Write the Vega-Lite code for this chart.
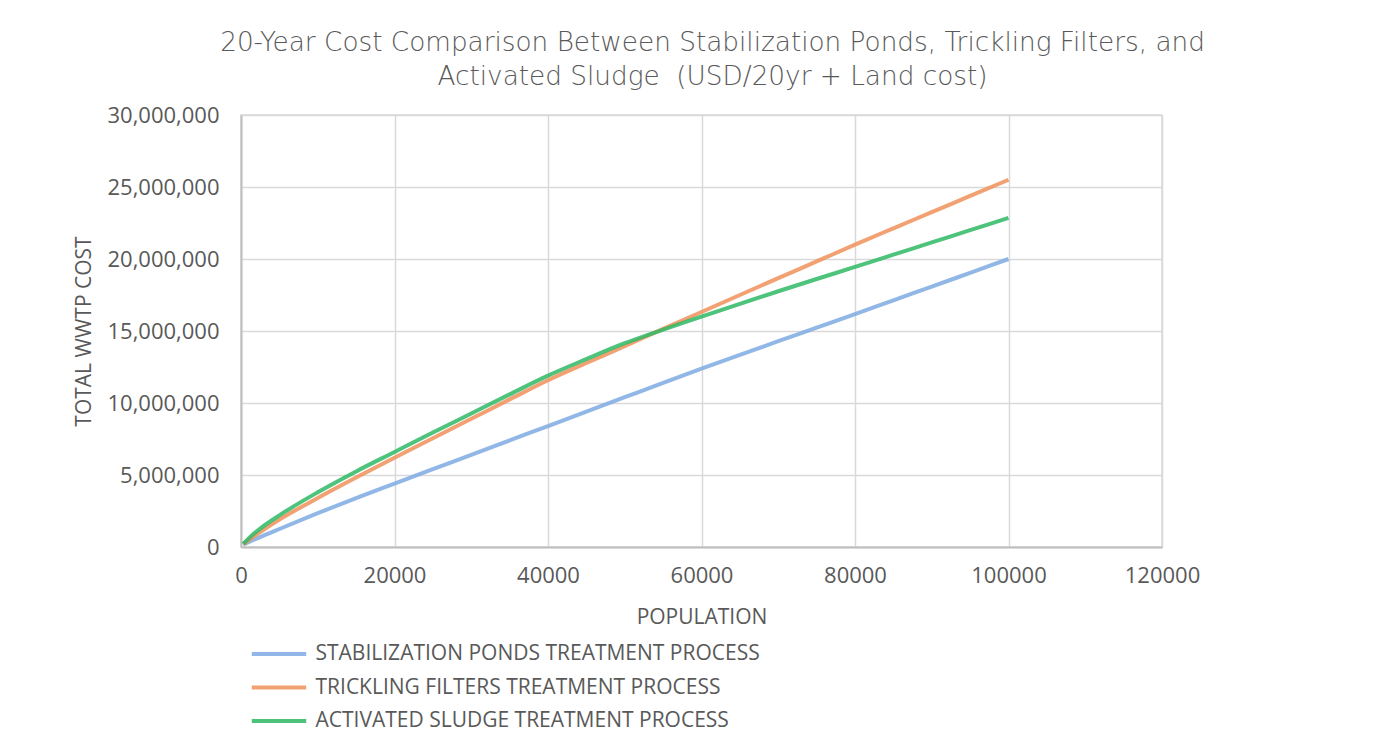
{
  "$schema": "https://vega.github.io/schema/vega-lite/v6.json",
  "width": 921,
  "height": 432,
  "autosize": {"type": "none"},
  "padding": {"left": 241, "top": 115, "right": 211, "bottom": 204},
  "background": "white",
  "title": {
    "text": ["20-Year Cost Comparison Between Stabilization Ponds, Trickling Filters, and", "Activated Sludge \u00a0(USD/20yr + Land cost)"],
    "anchor": "middle",
    "frame": "group",
    "dx": 11,
    "offset": 14,
    "font": "DejaVu Sans",
    "fontWeight": 200,
    "fontSize": 26.3,
    "lineHeight": 34,
    "color": "#595959"
  },
  "data": {
    "values": [
      {"population": 300, "process": "STABILIZATION PONDS TREATMENT PROCESS", "cost": 170000},
      {"population": 1000, "process": "STABILIZATION PONDS TREATMENT PROCESS", "cost": 340000},
      {"population": 2500, "process": "STABILIZATION PONDS TREATMENT PROCESS", "cost": 690000},
      {"population": 5000, "process": "STABILIZATION PONDS TREATMENT PROCESS", "cost": 1250000},
      {"population": 10000, "process": "STABILIZATION PONDS TREATMENT PROCESS", "cost": 2350000},
      {"population": 15000, "process": "STABILIZATION PONDS TREATMENT PROCESS", "cost": 3400000},
      {"population": 20000, "process": "STABILIZATION PONDS TREATMENT PROCESS", "cost": 4400000},
      {"population": 25000, "process": "STABILIZATION PONDS TREATMENT PROCESS", "cost": 5400000},
      {"population": 30000, "process": "STABILIZATION PONDS TREATMENT PROCESS", "cost": 6400000},
      {"population": 35000, "process": "STABILIZATION PONDS TREATMENT PROCESS", "cost": 7400000},
      {"population": 40000, "process": "STABILIZATION PONDS TREATMENT PROCESS", "cost": 8400000},
      {"population": 45000, "process": "STABILIZATION PONDS TREATMENT PROCESS", "cost": 9400000},
      {"population": 50000, "process": "STABILIZATION PONDS TREATMENT PROCESS", "cost": 10400000},
      {"population": 55000, "process": "STABILIZATION PONDS TREATMENT PROCESS", "cost": 11400000},
      {"population": 60000, "process": "STABILIZATION PONDS TREATMENT PROCESS", "cost": 12380000},
      {"population": 65000, "process": "STABILIZATION PONDS TREATMENT PROCESS", "cost": 13340000},
      {"population": 70000, "process": "STABILIZATION PONDS TREATMENT PROCESS", "cost": 14290000},
      {"population": 75000, "process": "STABILIZATION PONDS TREATMENT PROCESS", "cost": 15230000},
      {"population": 80000, "process": "STABILIZATION PONDS TREATMENT PROCESS", "cost": 16170000},
      {"population": 85000, "process": "STABILIZATION PONDS TREATMENT PROCESS", "cost": 17130000},
      {"population": 90000, "process": "STABILIZATION PONDS TREATMENT PROCESS", "cost": 18080000},
      {"population": 95000, "process": "STABILIZATION PONDS TREATMENT PROCESS", "cost": 19040000},
      {"population": 100000, "process": "STABILIZATION PONDS TREATMENT PROCESS", "cost": 20000000},
      {"population": 300, "process": "TRICKLING FILTERS TREATMENT PROCESS", "cost": 190000},
      {"population": 1000, "process": "TRICKLING FILTERS TREATMENT PROCESS", "cost": 480000},
      {"population": 2500, "process": "TRICKLING FILTERS TREATMENT PROCESS", "cost": 1030000},
      {"population": 5000, "process": "TRICKLING FILTERS TREATMENT PROCESS", "cost": 1900000},
      {"population": 10000, "process": "TRICKLING FILTERS TREATMENT PROCESS", "cost": 3400000},
      {"population": 15000, "process": "TRICKLING FILTERS TREATMENT PROCESS", "cost": 4820000},
      {"population": 20000, "process": "TRICKLING FILTERS TREATMENT PROCESS", "cost": 6200000},
      {"population": 25000, "process": "TRICKLING FILTERS TREATMENT PROCESS", "cost": 7550000},
      {"population": 30000, "process": "TRICKLING FILTERS TREATMENT PROCESS", "cost": 8900000},
      {"population": 35000, "process": "TRICKLING FILTERS TREATMENT PROCESS", "cost": 10250000},
      {"population": 40000, "process": "TRICKLING FILTERS TREATMENT PROCESS", "cost": 11580000},
      {"population": 45000, "process": "TRICKLING FILTERS TREATMENT PROCESS", "cost": 12780000},
      {"population": 50000, "process": "TRICKLING FILTERS TREATMENT PROCESS", "cost": 13950000},
      {"population": 55000, "process": "TRICKLING FILTERS TREATMENT PROCESS", "cost": 15150000},
      {"population": 60000, "process": "TRICKLING FILTERS TREATMENT PROCESS", "cost": 16320000},
      {"population": 65000, "process": "TRICKLING FILTERS TREATMENT PROCESS", "cost": 17500000},
      {"population": 70000, "process": "TRICKLING FILTERS TREATMENT PROCESS", "cost": 18670000},
      {"population": 75000, "process": "TRICKLING FILTERS TREATMENT PROCESS", "cost": 19830000},
      {"population": 80000, "process": "TRICKLING FILTERS TREATMENT PROCESS", "cost": 21000000},
      {"population": 85000, "process": "TRICKLING FILTERS TREATMENT PROCESS", "cost": 22130000},
      {"population": 90000, "process": "TRICKLING FILTERS TREATMENT PROCESS", "cost": 23250000},
      {"population": 95000, "process": "TRICKLING FILTERS TREATMENT PROCESS", "cost": 24380000},
      {"population": 100000, "process": "TRICKLING FILTERS TREATMENT PROCESS", "cost": 25500000},
      {"population": 300, "process": "ACTIVATED SLUDGE TREATMENT PROCESS", "cost": 210000},
      {"population": 1000, "process": "ACTIVATED SLUDGE TREATMENT PROCESS", "cost": 600000},
      {"population": 2500, "process": "ACTIVATED SLUDGE TREATMENT PROCESS", "cost": 1280000},
      {"population": 5000, "process": "ACTIVATED SLUDGE TREATMENT PROCESS", "cost": 2200000},
      {"population": 10000, "process": "ACTIVATED SLUDGE TREATMENT PROCESS", "cost": 3800000},
      {"population": 15000, "process": "ACTIVATED SLUDGE TREATMENT PROCESS", "cost": 5250000},
      {"population": 20000, "process": "ACTIVATED SLUDGE TREATMENT PROCESS", "cost": 6600000},
      {"population": 25000, "process": "ACTIVATED SLUDGE TREATMENT PROCESS", "cost": 7950000},
      {"population": 30000, "process": "ACTIVATED SLUDGE TREATMENT PROCESS", "cost": 9270000},
      {"population": 35000, "process": "ACTIVATED SLUDGE TREATMENT PROCESS", "cost": 10600000},
      {"population": 40000, "process": "ACTIVATED SLUDGE TREATMENT PROCESS", "cost": 11900000},
      {"population": 45000, "process": "ACTIVATED SLUDGE TREATMENT PROCESS", "cost": 13050000},
      {"population": 50000, "process": "ACTIVATED SLUDGE TREATMENT PROCESS", "cost": 14150000},
      {"population": 55000, "process": "ACTIVATED SLUDGE TREATMENT PROCESS", "cost": 15100000},
      {"population": 60000, "process": "ACTIVATED SLUDGE TREATMENT PROCESS", "cost": 16000000},
      {"population": 65000, "process": "ACTIVATED SLUDGE TREATMENT PROCESS", "cost": 16890000},
      {"population": 70000, "process": "ACTIVATED SLUDGE TREATMENT PROCESS", "cost": 17760000},
      {"population": 75000, "process": "ACTIVATED SLUDGE TREATMENT PROCESS", "cost": 18610000},
      {"population": 80000, "process": "ACTIVATED SLUDGE TREATMENT PROCESS", "cost": 19450000},
      {"population": 85000, "process": "ACTIVATED SLUDGE TREATMENT PROCESS", "cost": 20300000},
      {"population": 90000, "process": "ACTIVATED SLUDGE TREATMENT PROCESS", "cost": 21150000},
      {"population": 95000, "process": "ACTIVATED SLUDGE TREATMENT PROCESS", "cost": 22000000},
      {"population": 100000, "process": "ACTIVATED SLUDGE TREATMENT PROCESS", "cost": 22850000}
    ]
  },
  "mark": {"type": "line", "strokeWidth": 4, "opacity": 0.85, "interpolate": "monotone"},
  "encoding": {
    "x": {
      "field": "population",
      "type": "quantitative",
      "scale": {"domain": [0, 120000], "nice": false},
      "axis": {
        "title": "POPULATION",
        "values": [0, 20000, 40000, 60000, 80000, 100000, 120000],
        "format": "d",
        "labelFlush": false,
        "labelPadding": 18,
        "titlePadding": 20
      }
    },
    "y": {
      "field": "cost",
      "type": "quantitative",
      "scale": {"domain": [0, 30000000], "nice": false},
      "axis": {
        "title": "TOTAL WWTP COST",
        "values": [0, 5000000, 10000000, 15000000, 20000000, 25000000, 30000000],
        "format": ",d",
        "labelPadding": 22,
        "titlePadding": 12
      }
    },
    "color": {
      "field": "process",
      "type": "nominal",
      "sort": null,
      "scale": {
        "domain": ["STABILIZATION PONDS TREATMENT PROCESS", "TRICKLING FILTERS TREATMENT PROCESS", "ACTIVATED SLUDGE TREATMENT PROCESS"],
        "range": ["#7eaae3", "#f0915a", "#2fb865"]
      },
      "legend": {
        "title": null,
        "orient": "none",
        "legendX": 19,
        "legendY": 520,
        "direction": "vertical",
        "symbolType": "M-1.6,0H1.6",
        "symbolSize": 1156,
        "symbolStrokeWidth": 4,
        "labelFont": "Open Sans",
        "labelFontSize": 21,
        "labelColor": "#595959",
        "labelOffset": 17.5,
        "rowPadding": 4.5,
        "labelLimit": 600
      }
    }
  },
  "config": {
    "view": {"stroke": "#d9d9d9", "strokeWidth": 1.5},
    "axis": {
      "labelFont": "Open Sans",
      "labelFontSize": 22,
      "labelColor": "#595959",
      "titleFont": "Open Sans",
      "titleFontSize": 21,
      "titleFontWeight": "normal",
      "titleColor": "#595959",
      "ticks": false,
      "domainColor": "#bfbfbf",
      "domainWidth": 2,
      "gridColor": "#d9d9d9",
      "gridWidth": 1.5
    }
  }
}
